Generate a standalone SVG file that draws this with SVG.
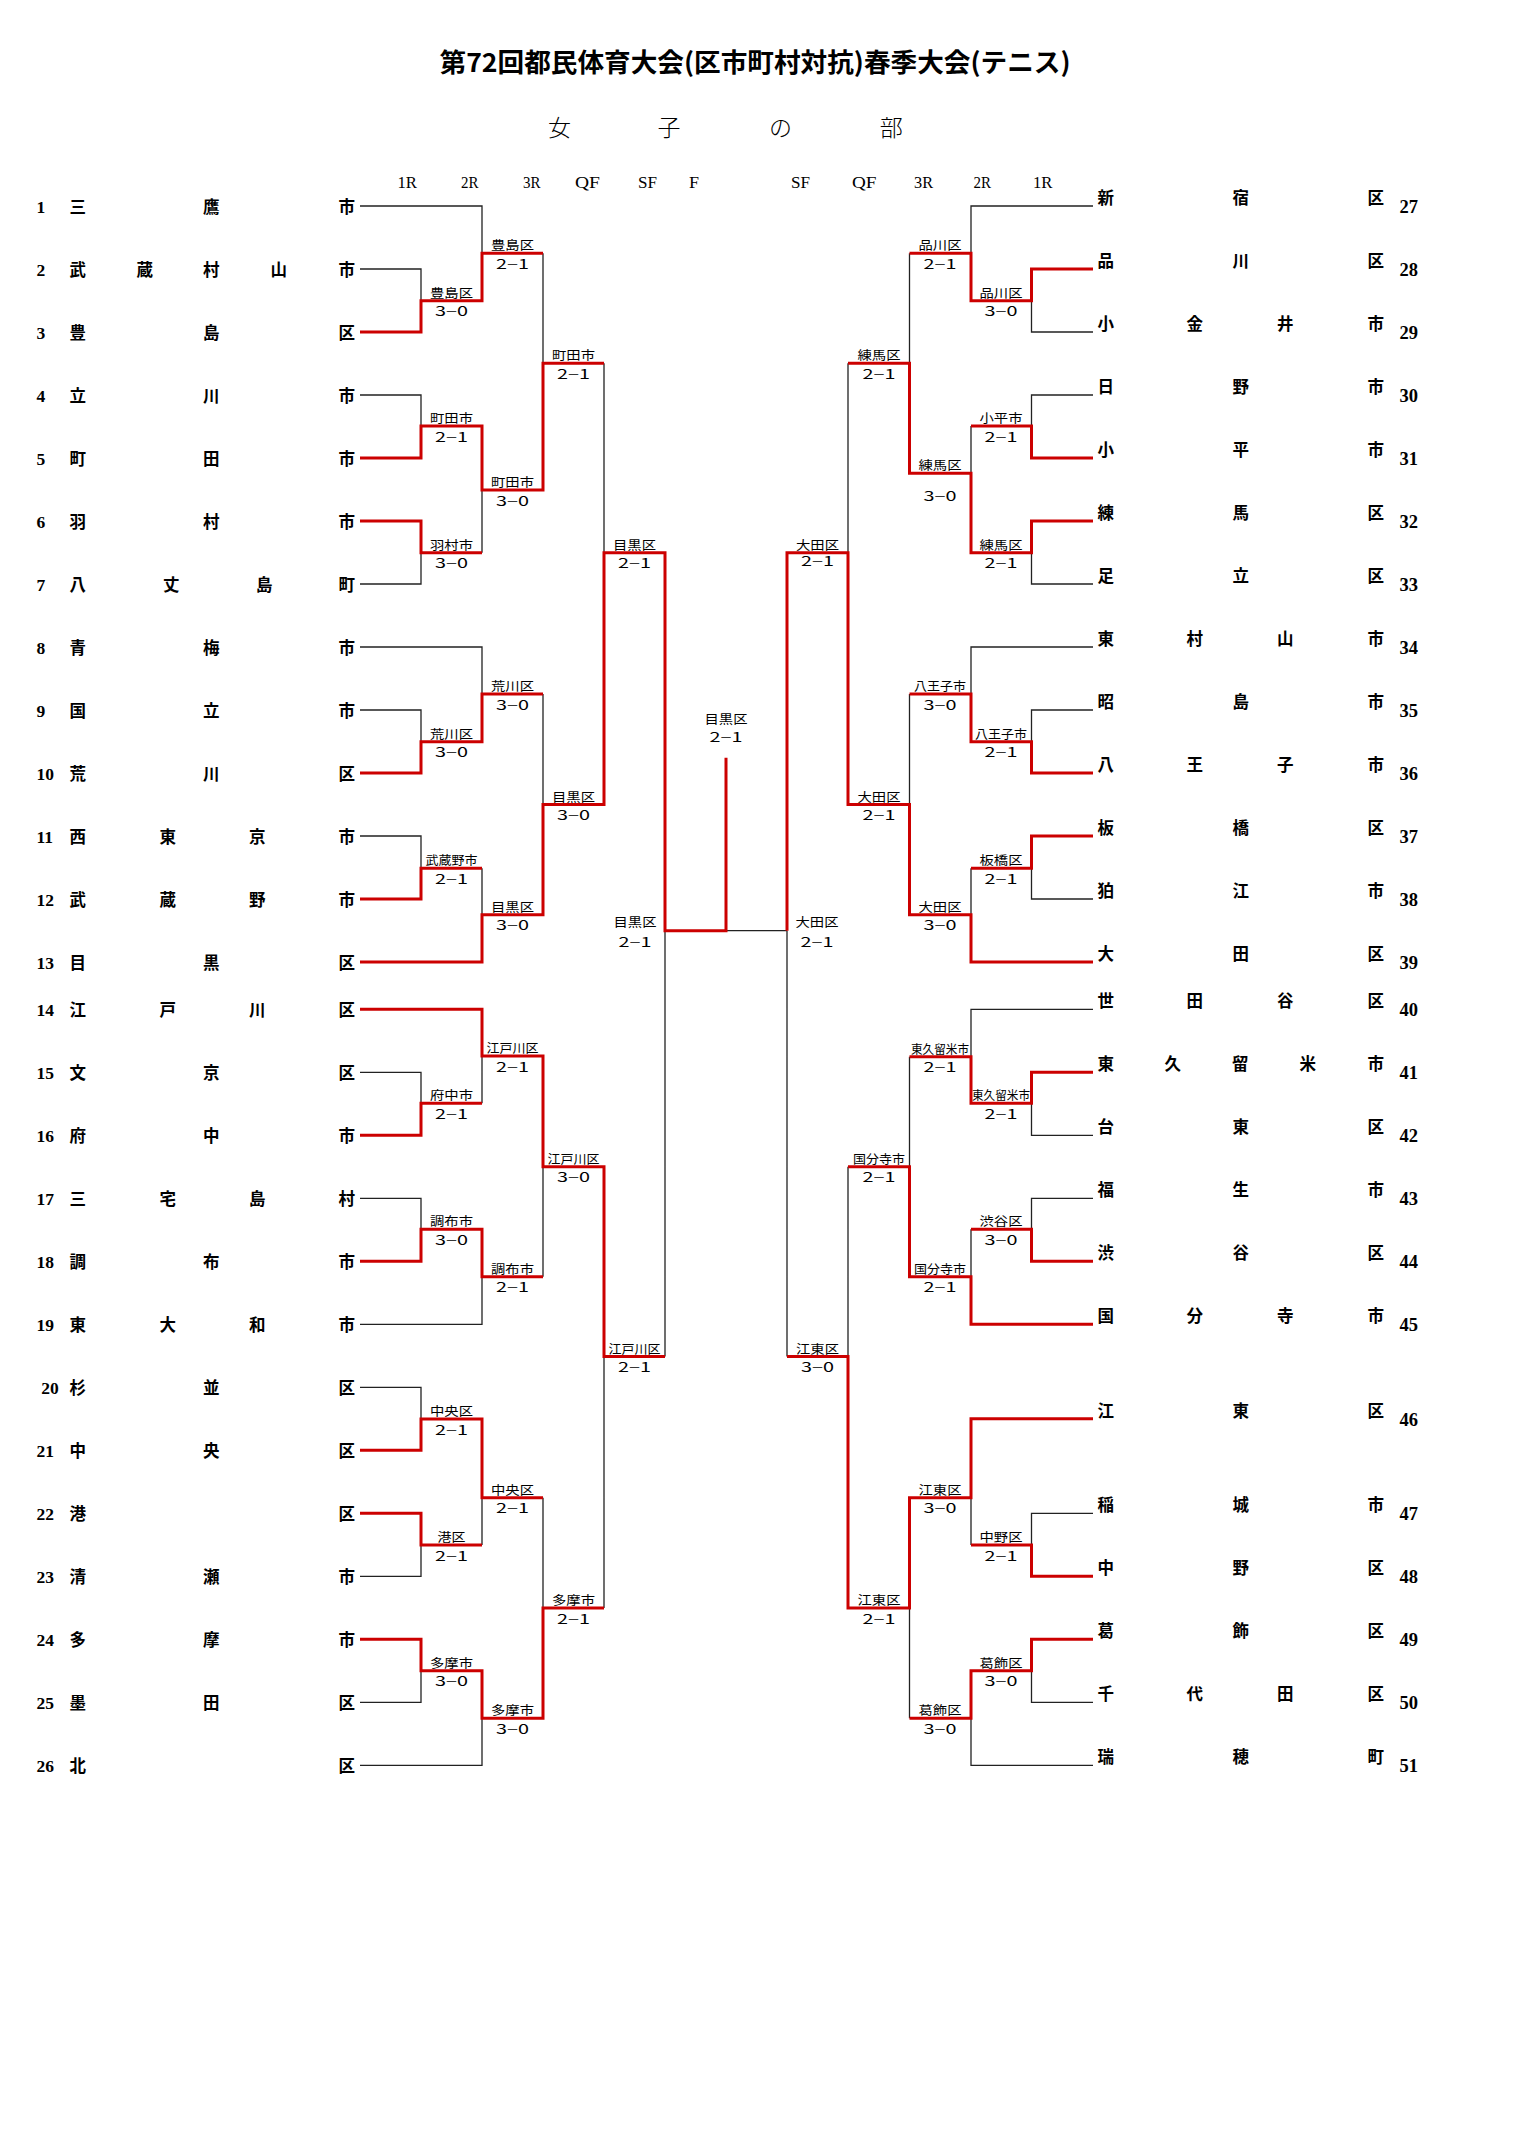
<svg xmlns="http://www.w3.org/2000/svg" width="1517" height="2148" viewBox="0 0 1517 2148">
<style>
.t{font-family:"Noto Sans CJK JP","Noto Sans CJK SC",sans-serif;fill:#000}
.nm{font-size:16.5px;font-weight:700}
.num{font-family:"Liberation Serif",serif;font-size:17.5px;font-weight:700;fill:#000}
.numr{font-family:"Liberation Serif",serif;font-size:18.5px;font-weight:700;fill:#000}
.lb{font-size:12.5px}
.hd{font-family:"Liberation Serif",serif;font-size:17px;fill:#000}
.blk{fill:none;stroke:#222;stroke-width:1.3}
.red{fill:none;stroke:#cc0000;stroke-width:3;stroke-linejoin:miter}
</style>
<rect width="1517" height="2148" fill="#fff"/>
<g id="title">
<text class="t" x="439.5" y="72" font-size="26" font-weight="700" textLength="631" lengthAdjust="spacingAndGlyphs">第72回都民体育大会(区市町村対抗)春季大会(テニス)</text>
<text class="t" x="548 657.6 769 879.7" y="135.5" font-size="23" font-weight="300">女子の部</text>
</g>
<g id="round-headers">
<text class="hd" x="397.5" y="188" textLength="19.5" lengthAdjust="spacingAndGlyphs">1R</text>
<text class="hd" x="461" y="188" textLength="17.5" lengthAdjust="spacingAndGlyphs">2R</text>
<text class="hd" x="523" y="188" textLength="17.5" lengthAdjust="spacingAndGlyphs">3R</text>
<text class="hd" x="575" y="188" textLength="25" lengthAdjust="spacingAndGlyphs">QF</text>
<text class="hd" x="638" y="188" textLength="19" lengthAdjust="spacingAndGlyphs">SF</text>
<text class="hd" x="689" y="188" textLength="10" lengthAdjust="spacingAndGlyphs">F</text>
<text class="hd" x="791" y="188" textLength="19" lengthAdjust="spacingAndGlyphs">SF</text>
<text class="hd" x="852" y="188" textLength="24.5" lengthAdjust="spacingAndGlyphs">QF</text>
<text class="hd" x="914" y="188" textLength="19" lengthAdjust="spacingAndGlyphs">3R</text>
<text class="hd" x="973.5" y="188" textLength="17.5" lengthAdjust="spacingAndGlyphs">2R</text>
<text class="hd" x="1033" y="188" textLength="19.5" lengthAdjust="spacingAndGlyphs">1R</text>
</g>
<g id="connectors">
<path class="blk" d="M360 206H482V253.3M360 269H421V300.7M543 253.3V363.3M360 395H421V426M482 490V552.7M360 584H421V552.7M604 363.3V552.7M360 647H482V694M360 710H421V741.7M543 694V804.5M360 836H421V868.3M482 868.3V914.7M665 930.7V1356.5M726 930.7H787M360 1072.3H421V1103.3M482 1056V1103.3M543 1166.7V1276.7M360 1198.3H421V1229.3M360 1324.3H482V1276.7M604 1356.5V1608M360 1387.3H421V1419M543 1497.7V1608M482 1497.7V1545M360 1576.3H421V1545M360 1702.3H421V1670.7M360 1765.3H482V1718.3"/>
<path class="blk" d="M1093 206H971V253.3M1093 332H1031.5V300.7M909.5 253.3V363.3M1093 395H1031.5V426M971 426V473.3M1093 584H1031.5V552.7M848 363.3V552.7M1093 647H971V694M1093 710H1031.5V741.7M909.5 694V804.5M1093 899H1031.5V868.3M971 868.3V914.7M787 930.7V1356.5M1093 1009.3H971V1056.7M909.5 1056.7V1166.7M1093 1135.3H1031.5V1103.3M848 1166.7V1356.5M1093 1198.3H1031.5V1229.3M971 1229.3V1276.7M1093 1513.3H1031.5V1545M971 1497.7V1545M909.5 1608V1718.3M1093 1702.3H1031.5V1670.7M1093 1765.3H971V1718.3"/>
<path class="red" d="M360 332H421V300.7H482V253.3H543M360 458H421V426H482V490H543V363.3H604M360 521H421V552.7H482M360 773H421V741.7H482V694H543M360 899H421V868.3H482M360 962H482V914.7H543V804.5H604V552.7H665V930.7H726V757.7M360 1009.3H482V1056H543V1166.7H604V1356.5H665M360 1135.3H421V1103.3H482M360 1261.3H421V1229.3H482V1276.7H543M360 1450.3H421V1419H482V1497.7H543M360 1513.3H421V1545H482M360 1639.3H421V1670.7H482V1718.3H543V1608H604"/>
<path class="red" d="M1093 269H1031.5V300.7H971V253.3H909.5M1093 458H1031.5V426H971M1093 521H1031.5V552.7H971V473.3H909.5V363.3H848M1093 773H1031.5V741.7H971V694H909.5M1093 836H1031.5V868.3H971M1093 962H971V914.7H909.5V804.5H848V552.7H787V930.7M1093 1072.3H1031.5V1103.3H971V1056.7H909.5M1093 1261.3H1031.5V1229.3H971M1093 1324.3H971V1276.7H909.5V1166.7H848M1093 1418.7H971V1497.7H909.5V1608H848V1356.5H787M1093 1576.3H1031.5V1545H971M1093 1639.3H1031.5V1670.7H971V1718.3H909.5"/>
</g>
<g id="team-1"><text class="num" x="36.5" y="213">1</text><text class="t nm" x="69.5 203 338.5" y="212.5">三鷹市</text></g>
<g id="team-2"><text class="num" x="36.5" y="276">2</text><text class="t nm" x="69.5 136.5 203 270.5 338.5" y="275.5">武蔵村山市</text></g>
<g id="team-3"><text class="num" x="36.5" y="339">3</text><text class="t nm" x="69.5 203 338.5" y="338.5">豊島区</text></g>
<g id="team-4"><text class="num" x="36.5" y="402">4</text><text class="t nm" x="69.5 203 338.5" y="401.5">立川市</text></g>
<g id="team-5"><text class="num" x="36.5" y="465">5</text><text class="t nm" x="69.5 203 338.5" y="464.5">町田市</text></g>
<g id="team-6"><text class="num" x="36.5" y="528">6</text><text class="t nm" x="69.5 203 338.5" y="527.5">羽村市</text></g>
<g id="team-7"><text class="num" x="36.5" y="591">7</text><text class="t nm" x="69.5 163 256 338.5" y="590.5">八丈島町</text></g>
<g id="team-8"><text class="num" x="36.5" y="654">8</text><text class="t nm" x="69.5 203 338.5" y="653.5">青梅市</text></g>
<g id="team-9"><text class="num" x="36.5" y="717">9</text><text class="t nm" x="69.5 203 338.5" y="716.5">国立市</text></g>
<g id="team-10"><text class="num" x="36.5" y="780">10</text><text class="t nm" x="69.5 203 338.5" y="779.5">荒川区</text></g>
<g id="team-11"><text class="num" x="36.5" y="843">11</text><text class="t nm" x="69.5 159.5 249 338.5" y="842.5">西東京市</text></g>
<g id="team-12"><text class="num" x="36.5" y="906">12</text><text class="t nm" x="69.5 159.5 249 338.5" y="905.5">武蔵野市</text></g>
<g id="team-13"><text class="num" x="36.5" y="969">13</text><text class="t nm" x="69.5 203 338.5" y="968.5">目黒区</text></g>
<g id="team-14"><text class="num" x="36.5" y="1016.3">14</text><text class="t nm" x="69.5 159.5 249 338.5" y="1015.8">江戸川区</text></g>
<g id="team-15"><text class="num" x="36.5" y="1079.3">15</text><text class="t nm" x="69.5 203 338.5" y="1078.8">文京区</text></g>
<g id="team-16"><text class="num" x="36.5" y="1142.3">16</text><text class="t nm" x="69.5 203 338.5" y="1141.8">府中市</text></g>
<g id="team-17"><text class="num" x="36.5" y="1205.3">17</text><text class="t nm" x="69.5 159.5 249 338.5" y="1204.8">三宅島村</text></g>
<g id="team-18"><text class="num" x="36.5" y="1268.3">18</text><text class="t nm" x="69.5 203 338.5" y="1267.8">調布市</text></g>
<g id="team-19"><text class="num" x="36.5" y="1331.3">19</text><text class="t nm" x="69.5 159.5 249 338.5" y="1330.8">東大和市</text></g>
<g id="team-20"><text class="num" x="41.2" y="1394.3">20</text><text class="t nm" x="69.5 203 338.5" y="1393.8">杉並区</text></g>
<g id="team-21"><text class="num" x="36.5" y="1457.3">21</text><text class="t nm" x="69.5 203 338.5" y="1456.8">中央区</text></g>
<g id="team-22"><text class="num" x="36.5" y="1520.3">22</text><text class="t nm" x="69.5 338.5" y="1519.8">港区</text></g>
<g id="team-23"><text class="num" x="36.5" y="1583.3">23</text><text class="t nm" x="69.5 203 338.5" y="1582.8">清瀬市</text></g>
<g id="team-24"><text class="num" x="36.5" y="1646.3">24</text><text class="t nm" x="69.5 203 338.5" y="1645.8">多摩市</text></g>
<g id="team-25"><text class="num" x="36.5" y="1709.3">25</text><text class="t nm" x="69.5 203 338.5" y="1708.8">墨田区</text></g>
<g id="team-26"><text class="num" x="36.5" y="1772.3">26</text><text class="t nm" x="69.5 338.5" y="1771.8">北区</text></g>
<g id="team-27"><text class="t nm" x="1097.5 1232.5 1367.5" y="204">新宿区</text><text class="numr" x="1399.5" y="213">27</text></g>
<g id="team-28"><text class="t nm" x="1097.5 1232.5 1367.5" y="267">品川区</text><text class="numr" x="1399.5" y="276">28</text></g>
<g id="team-29"><text class="t nm" x="1097.5 1186.5 1277 1367.5" y="330">小金井市</text><text class="numr" x="1399.5" y="339">29</text></g>
<g id="team-30"><text class="t nm" x="1097.5 1232.5 1367.5" y="393">日野市</text><text class="numr" x="1399.5" y="402">30</text></g>
<g id="team-31"><text class="t nm" x="1097.5 1232.5 1367.5" y="456">小平市</text><text class="numr" x="1399.5" y="465">31</text></g>
<g id="team-32"><text class="t nm" x="1097.5 1232.5 1367.5" y="519">練馬区</text><text class="numr" x="1399.5" y="528">32</text></g>
<g id="team-33"><text class="t nm" x="1097.5 1232.5 1367.5" y="582">足立区</text><text class="numr" x="1399.5" y="591">33</text></g>
<g id="team-34"><text class="t nm" x="1097.5 1186.5 1277 1367.5" y="645">東村山市</text><text class="numr" x="1399.5" y="654">34</text></g>
<g id="team-35"><text class="t nm" x="1097.5 1232.5 1367.5" y="708">昭島市</text><text class="numr" x="1399.5" y="717">35</text></g>
<g id="team-36"><text class="t nm" x="1097.5 1186.5 1277 1367.5" y="771">八王子市</text><text class="numr" x="1399.5" y="780">36</text></g>
<g id="team-37"><text class="t nm" x="1097.5 1232.5 1367.5" y="834">板橋区</text><text class="numr" x="1399.5" y="843">37</text></g>
<g id="team-38"><text class="t nm" x="1097.5 1232.5 1367.5" y="897">狛江市</text><text class="numr" x="1399.5" y="906">38</text></g>
<g id="team-39"><text class="t nm" x="1097.5 1232.5 1367.5" y="960">大田区</text><text class="numr" x="1399.5" y="969">39</text></g>
<g id="team-40"><text class="t nm" x="1097.5 1186.5 1277 1367.5" y="1007.3">世田谷区</text><text class="numr" x="1399.5" y="1016.3">40</text></g>
<g id="team-41"><text class="t nm" x="1097.5 1164.5 1232 1299.5 1367.5" y="1070.3">東久留米市</text><text class="numr" x="1399.5" y="1079.3">41</text></g>
<g id="team-42"><text class="t nm" x="1097.5 1232.5 1367.5" y="1133.3">台東区</text><text class="numr" x="1399.5" y="1142.3">42</text></g>
<g id="team-43"><text class="t nm" x="1097.5 1232.5 1367.5" y="1196.3">福生市</text><text class="numr" x="1399.5" y="1205.3">43</text></g>
<g id="team-44"><text class="t nm" x="1097.5 1232.5 1367.5" y="1259.3">渋谷区</text><text class="numr" x="1399.5" y="1268.3">44</text></g>
<g id="team-45"><text class="t nm" x="1097.5 1186.5 1277 1367.5" y="1322.3">国分寺市</text><text class="numr" x="1399.5" y="1331.3">45</text></g>
<g id="team-46"><text class="t nm" x="1097.5 1232.5 1367.5" y="1416.7">江東区</text><text class="numr" x="1399.5" y="1425.7">46</text></g>
<g id="team-47"><text class="t nm" x="1097.5 1232.5 1367.5" y="1511.3">稲城市</text><text class="numr" x="1399.5" y="1520.3">47</text></g>
<g id="team-48"><text class="t nm" x="1097.5 1232.5 1367.5" y="1574.3">中野区</text><text class="numr" x="1399.5" y="1583.3">48</text></g>
<g id="team-49"><text class="t nm" x="1097.5 1232.5 1367.5" y="1637.3">葛飾区</text><text class="numr" x="1399.5" y="1646.3">49</text></g>
<g id="team-50"><text class="t nm" x="1097.5 1186.5 1277 1367.5" y="1700.3">千代田区</text><text class="numr" x="1399.5" y="1709.3">50</text></g>
<g id="team-51"><text class="t nm" x="1097.5 1232.5 1367.5" y="1763.3">瑞穂町</text><text class="numr" x="1399.5" y="1772.3">51</text></g>
<g id="results-left" class="t lb">
<text x="491" y="250.3" textLength="43" lengthAdjust="spacingAndGlyphs">豊島区</text><text x="496" y="268.8" textLength="33" lengthAdjust="spacingAndGlyphs">2−1</text>
<text x="430" y="297.7" textLength="43" lengthAdjust="spacingAndGlyphs">豊島区</text><text x="435" y="316.2" textLength="33" lengthAdjust="spacingAndGlyphs">3−0</text>
<text x="552" y="360.3" textLength="43" lengthAdjust="spacingAndGlyphs">町田市</text><text x="557" y="378.8" textLength="33" lengthAdjust="spacingAndGlyphs">2−1</text>
<text x="430" y="423" textLength="43" lengthAdjust="spacingAndGlyphs">町田市</text><text x="435" y="441.5" textLength="33" lengthAdjust="spacingAndGlyphs">2−1</text>
<text x="491" y="487" textLength="43" lengthAdjust="spacingAndGlyphs">町田市</text><text x="496" y="505.5" textLength="33" lengthAdjust="spacingAndGlyphs">3−0</text>
<text x="430" y="549.7" textLength="43" lengthAdjust="spacingAndGlyphs">羽村市</text><text x="435" y="568.2" textLength="33" lengthAdjust="spacingAndGlyphs">3−0</text>
<text x="613" y="549.7" textLength="43" lengthAdjust="spacingAndGlyphs">目黒区</text><text x="618" y="568.2" textLength="33" lengthAdjust="spacingAndGlyphs">2−1</text>
<text x="491" y="691" textLength="43" lengthAdjust="spacingAndGlyphs">荒川区</text><text x="496" y="709.5" textLength="33" lengthAdjust="spacingAndGlyphs">3−0</text>
<text x="430" y="738.7" textLength="43" lengthAdjust="spacingAndGlyphs">荒川区</text><text x="435" y="757.2" textLength="33" lengthAdjust="spacingAndGlyphs">3−0</text>
<text x="552" y="801.5" textLength="43" lengthAdjust="spacingAndGlyphs">目黒区</text><text x="557" y="820" textLength="33" lengthAdjust="spacingAndGlyphs">3−0</text>
<text x="425.5" y="865.3" textLength="52" lengthAdjust="spacingAndGlyphs">武蔵野市</text><text x="435" y="883.8" textLength="33" lengthAdjust="spacingAndGlyphs">2−1</text>
<text x="491" y="911.7" textLength="43" lengthAdjust="spacingAndGlyphs">目黒区</text><text x="496" y="930.2" textLength="33" lengthAdjust="spacingAndGlyphs">3−0</text>
<text x="486.5" y="1053" textLength="52" lengthAdjust="spacingAndGlyphs">江戸川区</text><text x="496" y="1071.5" textLength="33" lengthAdjust="spacingAndGlyphs">2−1</text>
<text x="430" y="1100.3" textLength="43" lengthAdjust="spacingAndGlyphs">府中市</text><text x="435" y="1118.8" textLength="33" lengthAdjust="spacingAndGlyphs">2−1</text>
<text x="547.5" y="1163.7" textLength="52" lengthAdjust="spacingAndGlyphs">江戸川区</text><text x="557" y="1182.2" textLength="33" lengthAdjust="spacingAndGlyphs">3−0</text>
<text x="430" y="1226.3" textLength="43" lengthAdjust="spacingAndGlyphs">調布市</text><text x="435" y="1244.8" textLength="33" lengthAdjust="spacingAndGlyphs">3−0</text>
<text x="491" y="1273.7" textLength="43" lengthAdjust="spacingAndGlyphs">調布市</text><text x="496" y="1292.2" textLength="33" lengthAdjust="spacingAndGlyphs">2−1</text>
<text x="608.5" y="1353.5" textLength="52" lengthAdjust="spacingAndGlyphs">江戸川区</text><text x="618" y="1372" textLength="33" lengthAdjust="spacingAndGlyphs">2−1</text>
<text x="430" y="1416" textLength="43" lengthAdjust="spacingAndGlyphs">中央区</text><text x="435" y="1434.5" textLength="33" lengthAdjust="spacingAndGlyphs">2−1</text>
<text x="491" y="1494.7" textLength="43" lengthAdjust="spacingAndGlyphs">中央区</text><text x="496" y="1513.2" textLength="33" lengthAdjust="spacingAndGlyphs">2−1</text>
<text x="437.5" y="1542" textLength="28" lengthAdjust="spacingAndGlyphs">港区</text><text x="435" y="1560.5" textLength="33" lengthAdjust="spacingAndGlyphs">2−1</text>
<text x="552" y="1605" textLength="43" lengthAdjust="spacingAndGlyphs">多摩市</text><text x="557" y="1623.5" textLength="33" lengthAdjust="spacingAndGlyphs">2−1</text>
<text x="430" y="1667.7" textLength="43" lengthAdjust="spacingAndGlyphs">多摩市</text><text x="435" y="1686.2" textLength="33" lengthAdjust="spacingAndGlyphs">3−0</text>
<text x="491" y="1715.3" textLength="43" lengthAdjust="spacingAndGlyphs">多摩市</text><text x="496" y="1733.8" textLength="33" lengthAdjust="spacingAndGlyphs">3−0</text>
<text x="613.5" y="927" textLength="43" lengthAdjust="spacingAndGlyphs">目黒区</text><text x="618.5" y="946.5" textLength="33" lengthAdjust="spacingAndGlyphs">2−1</text>
</g>
<g id="result-final" class="t lb">
<text x="704.5" y="723.5" textLength="43" lengthAdjust="spacingAndGlyphs">目黒区</text><text x="709.5" y="741.5" textLength="33" lengthAdjust="spacingAndGlyphs">2−1</text>
</g>
<g id="results-right" class="t lb">
<text x="918.5" y="250.3" textLength="43" lengthAdjust="spacingAndGlyphs">品川区</text><text x="923.5" y="268.8" textLength="33" lengthAdjust="spacingAndGlyphs">2−1</text>
<text x="979.5" y="297.7" textLength="43" lengthAdjust="spacingAndGlyphs">品川区</text><text x="984.5" y="316.2" textLength="33" lengthAdjust="spacingAndGlyphs">3−0</text>
<text x="857.5" y="360.3" textLength="43" lengthAdjust="spacingAndGlyphs">練馬区</text><text x="862.5" y="378.8" textLength="33" lengthAdjust="spacingAndGlyphs">2−1</text>
<text x="979.5" y="423" textLength="43" lengthAdjust="spacingAndGlyphs">小平市</text><text x="984.5" y="441.5" textLength="33" lengthAdjust="spacingAndGlyphs">2−1</text>
<text x="918.5" y="470.3" textLength="43" lengthAdjust="spacingAndGlyphs">練馬区</text><text x="923.5" y="501" textLength="33" lengthAdjust="spacingAndGlyphs">3−0</text>
<text x="979.5" y="549.7" textLength="43" lengthAdjust="spacingAndGlyphs">練馬区</text><text x="984.5" y="568.2" textLength="33" lengthAdjust="spacingAndGlyphs">2−1</text>
<text x="796" y="549.7" textLength="43" lengthAdjust="spacingAndGlyphs">大田区</text><text x="801" y="566" textLength="33" lengthAdjust="spacingAndGlyphs">2−1</text>
<text x="914" y="691" textLength="52" lengthAdjust="spacingAndGlyphs">八王子市</text><text x="923.5" y="709.5" textLength="33" lengthAdjust="spacingAndGlyphs">3−0</text>
<text x="975" y="738.7" textLength="52" lengthAdjust="spacingAndGlyphs">八王子市</text><text x="984.5" y="757.2" textLength="33" lengthAdjust="spacingAndGlyphs">2−1</text>
<text x="857.5" y="801.5" textLength="43" lengthAdjust="spacingAndGlyphs">大田区</text><text x="862.5" y="820" textLength="33" lengthAdjust="spacingAndGlyphs">2−1</text>
<text x="979.5" y="865.3" textLength="43" lengthAdjust="spacingAndGlyphs">板橋区</text><text x="984.5" y="883.8" textLength="33" lengthAdjust="spacingAndGlyphs">2−1</text>
<text x="918.5" y="911.7" textLength="43" lengthAdjust="spacingAndGlyphs">大田区</text><text x="923.5" y="930.2" textLength="33" lengthAdjust="spacingAndGlyphs">3−0</text>
<text x="795.5" y="927" textLength="43" lengthAdjust="spacingAndGlyphs">大田区</text><text x="800.5" y="946.5" textLength="33" lengthAdjust="spacingAndGlyphs">2−1</text>
<text x="911" y="1053.7" textLength="58" lengthAdjust="spacingAndGlyphs">東久留米市</text><text x="923.5" y="1072.2" textLength="33" lengthAdjust="spacingAndGlyphs">2−1</text>
<text x="972" y="1100.3" textLength="58" lengthAdjust="spacingAndGlyphs">東久留米市</text><text x="984.5" y="1118.8" textLength="33" lengthAdjust="spacingAndGlyphs">2−1</text>
<text x="853" y="1163.7" textLength="52" lengthAdjust="spacingAndGlyphs">国分寺市</text><text x="862.5" y="1182.2" textLength="33" lengthAdjust="spacingAndGlyphs">2−1</text>
<text x="979.5" y="1226.3" textLength="43" lengthAdjust="spacingAndGlyphs">渋谷区</text><text x="984.5" y="1244.8" textLength="33" lengthAdjust="spacingAndGlyphs">3−0</text>
<text x="914" y="1273.7" textLength="52" lengthAdjust="spacingAndGlyphs">国分寺市</text><text x="923.5" y="1292.2" textLength="33" lengthAdjust="spacingAndGlyphs">2−1</text>
<text x="796" y="1353.5" textLength="43" lengthAdjust="spacingAndGlyphs">江東区</text><text x="801" y="1372" textLength="33" lengthAdjust="spacingAndGlyphs">3−0</text>
<text x="918.5" y="1494.7" textLength="43" lengthAdjust="spacingAndGlyphs">江東区</text><text x="923.5" y="1513.2" textLength="33" lengthAdjust="spacingAndGlyphs">3−0</text>
<text x="979.5" y="1542" textLength="43" lengthAdjust="spacingAndGlyphs">中野区</text><text x="984.5" y="1560.5" textLength="33" lengthAdjust="spacingAndGlyphs">2−1</text>
<text x="857.5" y="1605" textLength="43" lengthAdjust="spacingAndGlyphs">江東区</text><text x="862.5" y="1623.5" textLength="33" lengthAdjust="spacingAndGlyphs">2−1</text>
<text x="979.5" y="1667.7" textLength="43" lengthAdjust="spacingAndGlyphs">葛飾区</text><text x="984.5" y="1686.2" textLength="33" lengthAdjust="spacingAndGlyphs">3−0</text>
<text x="918.5" y="1715.3" textLength="43" lengthAdjust="spacingAndGlyphs">葛飾区</text><text x="923.5" y="1733.8" textLength="33" lengthAdjust="spacingAndGlyphs">3−0</text>
</g>
</svg>
